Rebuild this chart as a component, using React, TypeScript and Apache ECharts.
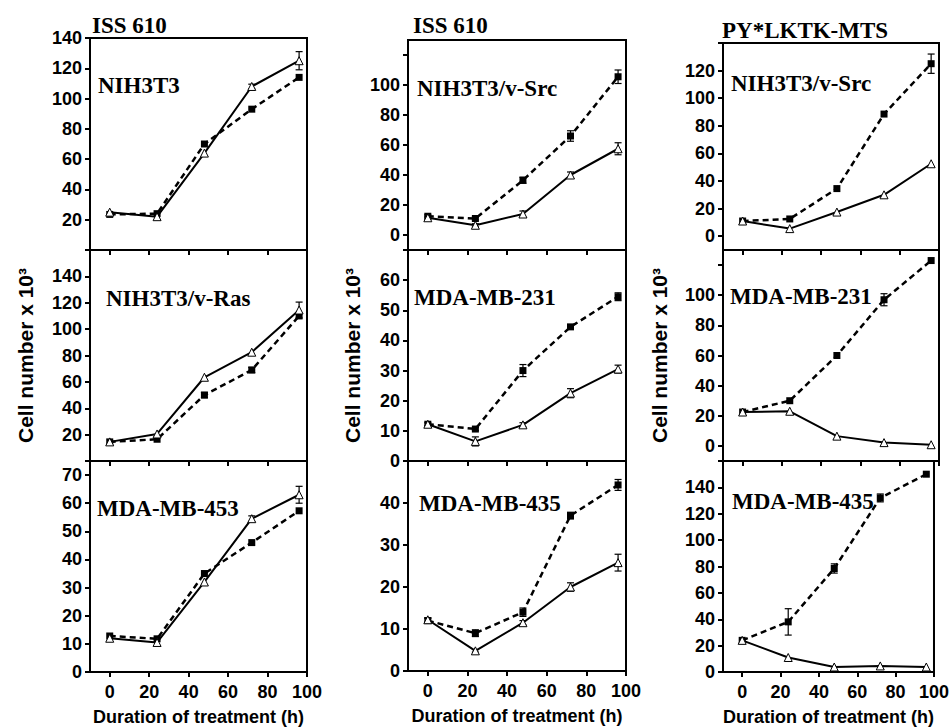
import React, { useEffect, useRef } from 'react';
import * as echarts from 'echarts';

// ---------- data ----------
const hours = [0, 24, 48, 72, 96];
const xTickValues = [0, 20, 40, 60, 80, 100];
const columnTitles = ['ISS 610', 'ISS 610', 'PY*LKTK-MTS'];
const yAxisTitle = 'Cell number x 10³';
const xAxisTitle = 'Duration of treatment (h)';

// Column 1 (ISS 610)
const c1r1Label = 'NIH3T3';
const c1r1Solid = [25, 22, 64, 108, 125];
const c1r1SolidErr = [0, 0, 0, 1.5, 6];
const c1r1Dashed = [23.5, 24, 70, 93, 114];
const c1r1DashedErr = [0, 0, 0, 0, 0];
const c1r1YTicks = [0, 20, 40, 60, 80, 100, 120, 140];
const c1r1YLabels = [20, 40, 60, 80, 100, 120, 140];

const c1r2Label = 'NIH3T3/v-Ras';
const c1r2Solid = [14.5, 20.5, 63.5, 82.5, 114.5];
const c1r2SolidErr = [0, 0, 0, 0, 6];
const c1r2Dashed = [14.5, 16.5, 50, 69, 110];
const c1r2DashedErr = [0, 0, 2, 2, 0];
const c1r2YTicks = [0, 20, 40, 60, 80, 100, 120, 140, 160];
const c1r2YLabels = [20, 40, 60, 80, 100, 120, 140];

const c1r3Label = 'MDA-MB-453';
const c1r3Solid = [12, 10.5, 32, 54.5, 63];
const c1r3SolidErr = [0, 0, 0, 1, 3];
const c1r3Dashed = [12.8, 11.8, 35, 46, 57.3];
const c1r3DashedErr = [0, 0, 0, 0, 0];
const c1r3YTicks = [0, 10, 20, 30, 40, 50, 60, 70];
const c1r3YLabels = [0, 10, 20, 30, 40, 50, 60, 70];

// Column 2 (ISS 610)
const c2r1Label = 'NIH3T3/v-Src';
const c2r1Solid = [11.5, 6.5, 14, 40, 57.5];
const c2r1SolidErr = [1, 1, 2, 2, 4];
const c2r1Dashed = [12.5, 11, 36.5, 66, 105.5];
const c2r1DashedErr = [1, 1, 2, 3.5, 4.5];
const c2r1YTicks = [0, 20, 40, 60, 80, 100, 120];
const c2r1YLabels = [0, 20, 40, 60, 80, 100];

const c2r2Label = 'MDA-MB-231';
const c2r2Solid = [12.2, 6.5, 12, 22.5, 30.5];
const c2r2SolidErr = [0.5, 1.5, 0.7, 1.5, 1.3];
const c2r2Dashed = [12.2, 10.6, 30, 44.5, 54.5];
const c2r2DashedErr = [0, 0.5, 2, 0.5, 1.3];
const c2r2YTicks = [0, 10, 20, 30, 40, 50, 60, 70];
const c2r2YLabels = [0, 10, 20, 30, 40, 50, 60];

const c2r3Label = 'MDA-MB-435';
const c2r3Solid = [12.2, 4.8, 11.5, 20, 25.8];
const c2r3SolidErr = [0.5, 0.3, 0.5, 1, 2];
const c2r3Dashed = [12, 9, 14, 37, 44.3];
const c2r3DashedErr = [0.5, 0.8, 1, 0.8, 1.3];
const c2r3YTicks = [0, 10, 20, 30, 40, 50];
const c2r3YLabels = [0, 10, 20, 30, 40];

// Column 3 (PY*LKTK-MTS)
const c3r1Label = 'NIH3T3/v-Src';
const c3r1Solid = [11, 5.5, 17.5, 30, 52.5];
const c3r1SolidErr = [0, 0, 0, 0, 0];
const c3r1Dashed = [11, 12.5, 34.5, 88.5, 125];
const c3r1DashedErr = [0, 0, 0, 0, 7];
const c3r1YTicks = [0, 20, 40, 60, 80, 100, 120, 140];
const c3r1YLabels = [0, 20, 40, 60, 80, 100, 120];

const c3r2Label = 'MDA-MB-231';
const c3r2Solid = [22.5, 23, 6.5, 2.2, 0.8];
const c3r2SolidErr = [0, 0, 0, 0, 0];
const c3r2Dashed = [22.5, 30, 60, 97, 123];
const c3r2DashedErr = [0, 0, 0, 4, 0];
const c3r2YTicks = [0, 20, 40, 60, 80, 100, 120];
const c3r2YLabels = [0, 20, 40, 60, 80, 100];

const c3r3Label = 'MDA-MB-435';
const c3r3Solid = [24, 11, 3.8, 4.6, 3.8];
const c3r3SolidErr = [0, 0, 0, 0, 0];
const c3r3Dashed = [24, 38, 78.5, 132, 150];
const c3r3DashedErr = [0, 10, 3.5, 3, 0];
const c3r3YTicks = [0, 20, 40, 60, 80, 100, 120, 140, 160];
const c3r3YLabels = [0, 20, 40, 60, 80, 100, 120, 140];

// y ranges
const c1YMin = [0, 0, 0];
const c1YMax = [140, 160, 75];
const c2YMin = [-10, 0, 0];
const c2YMax = [130, 70, 50];
const c3YMin = [-10, -10, 0];
const c3YMax = [140, 130, 160];
const xMin = -10;
const xMax = 100;

// ---------- layout ----------
const colLeft = [90, 408, 723];
const colWidth = [217, 218, 216];
const rowEdges = [
  [38, 250, 461, 672],
  [40, 250, 461, 671],
  [43, 250, 461, 672],
];
const yNameGap = [54, 45, 53];
const titlePos = [
  [92, 25],
  [413, 25],
  [722, 30],
];
const labelPos = [
  [[98, 85], [106, 298], [97, 508]],
  [[417, 88], [414, 297], [419, 503]],
  [[731, 83], [730, 296], [732, 501]],
];

const SANS = 'Liberation Sans, Arial, Helvetica, sans-serif';
const SERIF = 'Liberation Serif, Times New Roman, serif';

type Panel = {
  label: string;
  solid: number[];
  solidErr: number[];
  dashed: number[];
  dashedErr: number[];
  yTicks: number[];
  yLabels: number[];
  yMin: number;
  yMax: number;
};

const panels: Panel[][] = [
  [
    { label: c1r1Label, solid: c1r1Solid, solidErr: c1r1SolidErr, dashed: c1r1Dashed, dashedErr: c1r1DashedErr, yTicks: c1r1YTicks, yLabels: c1r1YLabels, yMin: c1YMin[0], yMax: c1YMax[0] },
    { label: c1r2Label, solid: c1r2Solid, solidErr: c1r2SolidErr, dashed: c1r2Dashed, dashedErr: c1r2DashedErr, yTicks: c1r2YTicks, yLabels: c1r2YLabels, yMin: c1YMin[1], yMax: c1YMax[1] },
    { label: c1r3Label, solid: c1r3Solid, solidErr: c1r3SolidErr, dashed: c1r3Dashed, dashedErr: c1r3DashedErr, yTicks: c1r3YTicks, yLabels: c1r3YLabels, yMin: c1YMin[2], yMax: c1YMax[2] },
  ],
  [
    { label: c2r1Label, solid: c2r1Solid, solidErr: c2r1SolidErr, dashed: c2r1Dashed, dashedErr: c2r1DashedErr, yTicks: c2r1YTicks, yLabels: c2r1YLabels, yMin: c2YMin[0], yMax: c2YMax[0] },
    { label: c2r2Label, solid: c2r2Solid, solidErr: c2r2SolidErr, dashed: c2r2Dashed, dashedErr: c2r2DashedErr, yTicks: c2r2YTicks, yLabels: c2r2YLabels, yMin: c2YMin[1], yMax: c2YMax[1] },
    { label: c2r3Label, solid: c2r3Solid, solidErr: c2r3SolidErr, dashed: c2r3Dashed, dashedErr: c2r3DashedErr, yTicks: c2r3YTicks, yLabels: c2r3YLabels, yMin: c2YMin[2], yMax: c2YMax[2] },
  ],
  [
    { label: c3r1Label, solid: c3r1Solid, solidErr: c3r1SolidErr, dashed: c3r1Dashed, dashedErr: c3r1DashedErr, yTicks: c3r1YTicks, yLabels: c3r1YLabels, yMin: c3YMin[0], yMax: c3YMax[0] },
    { label: c3r2Label, solid: c3r2Solid, solidErr: c3r2SolidErr, dashed: c3r2Dashed, dashedErr: c3r2DashedErr, yTicks: c3r2YTicks, yLabels: c3r2YLabels, yMin: c3YMin[1], yMax: c3YMax[1] },
    { label: c3r3Label, solid: c3r3Solid, solidErr: c3r3SolidErr, dashed: c3r3Dashed, dashedErr: c3r3DashedErr, yTicks: c3r3YTicks, yLabels: c3r3YLabels, yMin: c3YMin[2], yMax: c3YMax[2] },
  ],
];

function errorRenderItem(params: any, api: any) {
  const x = api.value(0);
  const y = api.value(1);
  const e = api.value(2);
  const top = api.coord([x, y + e]);
  const bot = api.coord([x, y - e]);
  const cap = 3.5;
  const st = { stroke: '#000', lineWidth: 1.2 };
  return {
    type: 'group',
    children: [
      { type: 'line', shape: { x1: top[0], y1: top[1], x2: bot[0], y2: bot[1] }, style: st },
      { type: 'line', shape: { x1: top[0] - cap, y1: top[1], x2: top[0] + cap, y2: top[1] }, style: st },
      { type: 'line', shape: { x1: bot[0] - cap, y1: bot[1], x2: bot[0] + cap, y2: bot[1] }, style: st },
    ],
  };
}

function buildOption() {
  const grid: any[] = [];
  const xAxis: any[] = [];
  const yAxis: any[] = [];
  const rightAxes: any[] = [];
  const series: any[] = [];
  const graphic: any[] = [];

  panels.forEach((col, c) => {
    col.forEach((p, r) => {
      const idx = c * 3 + r;
      const top = rowEdges[c][r];
      const height = rowEdges[c][r + 1] - top;
      grid.push({
        left: colLeft[c],
        top,
        width: colWidth[c],
        height,
        show: true,
        borderColor: '#000',
        borderWidth: 2,
        backgroundColor: 'transparent',
        containLabel: false,
      });
      const isBottom = r === 2;
      xAxis.push({
        type: 'value',
        gridIndex: idx,
        min: xMin,
        max: xMax,
        splitLine: { show: false },
        axisLine: { show: true, onZero: false, lineStyle: { color: '#000', width: 2 } },
        axisTick: { show: true, customValues: xTickValues, length: 5, lineStyle: { color: '#000', width: 2 } },
        axisLabel: {
          show: isBottom,
          customValues: xTickValues,
          color: '#000',
          fontSize: 18,
          fontWeight: 'bold',
          fontFamily: SANS,
          margin: 11,
        },
        name: isBottom ? xAxisTitle : '',
        nameLocation: 'middle',
        nameGap: 36,
        nameTextStyle: { color: '#000', fontSize: 18, fontWeight: 'bold', fontFamily: SANS },
      });
      yAxis.push({
        type: 'value',
        gridIndex: idx,
        min: p.yMin,
        max: p.yMax,
        splitLine: { show: false },
        axisLine: { show: true, onZero: false, lineStyle: { color: '#000', width: 2 } },
        axisTick: { show: true, customValues: p.yTicks, length: 5, lineStyle: { color: '#000', width: 2 } },
        axisLabel: {
          customValues: p.yLabels,
          color: '#000',
          fontSize: 18,
          fontWeight: 'bold',
          fontFamily: SANS,
          margin: 8,
        },
        name: r === 1 ? yAxisTitle : '',
        nameLocation: 'middle',
        nameGap: yNameGap[c],
        nameTextStyle: { color: '#000', fontSize: 21, fontWeight: 'bold', fontFamily: SANS },
      });
      rightAxes.push({
        type: 'value',
        gridIndex: idx,
        position: 'right',
        min: p.yMin,
        max: p.yMax,
        splitLine: { show: false },
        axisLine: { show: true, onZero: false, lineStyle: { color: '#000', width: 2 } },
        axisTick: { show: false },
        axisLabel: { show: false },
      });

      const errData = (vals: number[], errs: number[]) =>
        hours.map((h, k) => [h, vals[k], errs[k]]).filter((d) => d[2] > 0);

      series.push({
        type: 'custom',
        xAxisIndex: idx,
        yAxisIndex: idx,
        renderItem: errorRenderItem,
        data: errData(p.solid, p.solidErr).concat(errData(p.dashed, p.dashedErr)),
        encode: { x: 0, y: 1 },
        z: 1,
        silent: true,
      });
      series.push({
        type: 'line',
        xAxisIndex: idx,
        yAxisIndex: idx,
        data: hours.map((h, k) => [h, p.dashed[k]]),
        symbol: 'rect',
        symbolSize: 7,
        showAllSymbol: true,
        lineStyle: { color: '#000', width: 2.5, type: [6, 4] },
        itemStyle: { color: '#000' },
        z: 2,
      });
      series.push({
        type: 'line',
        xAxisIndex: idx,
        yAxisIndex: idx,
        data: hours.map((h, k) => [h, p.solid[k]]),
        symbol: 'triangle',
        symbolSize: 8,
        showAllSymbol: true,
        lineStyle: { color: '#000', width: 2 },
        itemStyle: { color: '#fff', borderColor: '#000', borderWidth: 1 },
        z: 3,
      });

      graphic.push({
        type: 'text',
        x: labelPos[c][r][0],
        y: labelPos[c][r][1],
        style: {
          text: p.label,
          font: `bold 23px ${SERIF}`,
          fill: '#000',
          align: 'left',
          verticalAlign: 'middle',
          textAlign: 'left',
          textVerticalAlign: 'middle',
        },
        z: 10,
      });
    });
    graphic.push({
      type: 'text',
      x: titlePos[c][0],
      y: titlePos[c][1],
      style: {
        text: columnTitles[c],
        font: `bold 23px ${SERIF}`,
        fill: '#000',
        align: 'left',
        verticalAlign: 'middle',
        textAlign: 'left',
        textVerticalAlign: 'middle',
      },
      z: 10,
    });
  });

  return {
    animation: false,
    backgroundColor: '#fff',
    grid,
    xAxis,
    yAxis: yAxis.concat(rightAxes),
    series,
    graphic,
  };
}

export default function App() {
  const ref = useRef<HTMLDivElement>(null);
  useEffect(() => {
    if (!ref.current) return;
    const chart = echarts.init(ref.current, undefined, { renderer: 'svg' });
    chart.setOption(buildOption() as any);
    return () => chart.dispose();
  }, []);
  return (
    <div
      ref={ref}
      style={{ position: 'fixed', left: 0, top: 0, width: 952, height: 728, background: '#fff' }}
    />
  );
}
